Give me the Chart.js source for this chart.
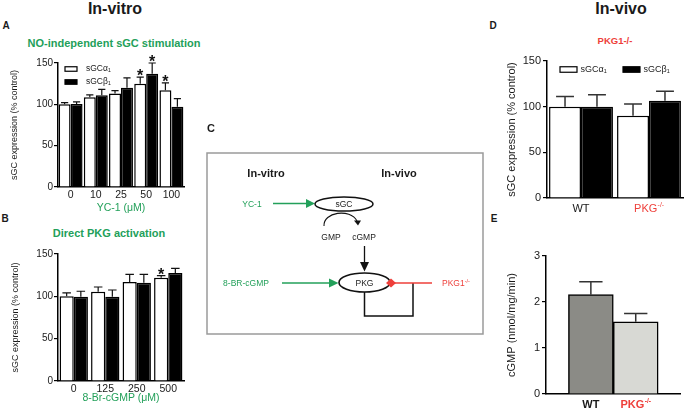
<!DOCTYPE html>
<html><head><meta charset="utf-8">
<script src="https://cdn.jsdelivr.net/npm/chart.js@4.4.1/dist/chart.umd.min.js"></script>
<style>
html,body{margin:0;padding:0;background:#fff;}
#fig{position:relative;width:685px;height:411px;overflow:hidden;background:#fff;font-family:"Liberation Sans",Arial,Helvetica,sans-serif;color:#1a1a1a;}
.t{position:absolute;transform:translate(-50%,-50%);white-space:nowrap;line-height:1;}
canvas{position:absolute;}
svg{position:absolute;left:0;top:0;}
</style></head><body>
<div id="fig">
  <div class="t" style="left:115px;top:9px;font-size:16px;font-weight:bold">In-vitro</div>
  <div class="t" style="left:6px;top:26px;font-size:10px;font-weight:bold">A</div>
  <div class="t" style="left:114px;top:43px;font-size:11px;font-weight:bold;color:#23a05a">NO-independent sGC stimulation</div>
  <div class="t" style="left:5px;top:219px;font-size:10px;font-weight:bold">B</div>
  <div class="t" style="left:109px;top:233px;font-size:11px;font-weight:bold;color:#23a05a">Direct PKG activation</div>
  <div class="t" style="left:621px;top:9px;font-size:16px;font-weight:bold">In-vivo</div>
  <div class="t" style="left:493px;top:26px;font-size:10px;font-weight:bold">D</div>
  <div class="t" style="left:615px;top:41px;font-size:9.5px;font-weight:bold;color:#ee3f3a">PKG1-/-</div>
  <div class="t" style="left:494px;top:219px;font-size:10px;font-weight:bold">E</div>

  <canvas id="cA" width="190" height="170" style="left:0px;top:50px;width:190px;height:170px"></canvas>
  <canvas id="cB" width="190" height="171" style="left:0px;top:240px;width:190px;height:171px"></canvas>
  <canvas id="cD" width="185" height="170" style="left:500px;top:50px;width:185px;height:170px"></canvas>
  <canvas id="cE" width="185" height="171" style="left:500px;top:240px;width:185px;height:171px"></canvas>

  <svg width="685" height="411" viewBox="0 0 685 411" font-family="Liberation Sans, Arial, sans-serif">
    <text x="211" y="132" font-size="11" font-weight="bold" text-anchor="middle" fill="#1a1a1a">C</text>
    <rect x="207" y="153" width="276" height="181" fill="none" stroke="#9a9a9a" stroke-width="1.5"/>
    <text x="266" y="177" font-size="11" font-weight="bold" text-anchor="middle" fill="#1a1a1a">In-vitro</text>
    <text x="399" y="177" font-size="11" font-weight="bold" text-anchor="middle" fill="#1a1a1a">In-vivo</text>
    <!-- YC-1 arrow -->
    <text x="252" y="207" font-size="8.5" text-anchor="middle" fill="#23a05a">YC-1</text>
    <line x1="273" y1="203.5" x2="308" y2="203.5" stroke="#23a05a" stroke-width="1.6"/>
    <polygon points="306,199 315,203.5 306,208" fill="#23a05a"/>
    <ellipse cx="344" cy="204" rx="29" ry="7" fill="#fff" stroke="#111" stroke-width="1.5"/>
    <text x="344" y="207" font-size="8.5" text-anchor="middle" fill="#222">sGC</text>
    <!-- GMP -> cGMP curved arrow -->
    <path d="M 324 226 C 323 212, 350 208, 357 221" fill="none" stroke="#111" stroke-width="1.1"/>
    <polygon points="354,220.5 361,220.5 358,225.5" fill="#111"/>
    <text x="331" y="240" font-size="8.5" text-anchor="middle" fill="#222">GMP</text>
    <text x="364" y="240" font-size="8.5" text-anchor="middle" fill="#222">cGMP</text>
    <!-- cGMP -> PKG -->
    <line x1="364.5" y1="246" x2="364.5" y2="264" stroke="#111" stroke-width="1.3"/>
    <polygon points="360,262 369,262 364.5,271.5" fill="#111"/>
    <!-- 8-BR-cGMP arrow -->
    <text x="246" y="286" font-size="8.5" text-anchor="middle" fill="#23a05a">8-BR-cGMP</text>
    <line x1="282" y1="283" x2="331" y2="283" stroke="#23a05a" stroke-width="1.6"/>
    <polygon points="329,278.5 338.5,283 329,287.5" fill="#23a05a"/>
    <ellipse cx="364.5" cy="282.5" rx="25.5" ry="9.5" fill="#fff" stroke="#111" stroke-width="1.6"/>
    <text x="364.5" y="285.5" font-size="8.5" text-anchor="middle" fill="#222">PKG</text>
    <!-- feedback loop -->
    <polyline points="364.5,292 364.5,316 413,316 413,283" fill="none" stroke="#111" stroke-width="1.5"/>
    <!-- PKG1-/- inhibitory -->
    <line x1="394" y1="283" x2="432" y2="283" stroke="#ee3f3a" stroke-width="1.6"/>
    <polygon points="386,283 391,278.5 396,283 391,287.5" fill="#ee3f3a"/>
    <text x="442" y="286" font-size="8.5" fill="#ee3f3a">PKG1<tspan font-size="5.5" dy="-3">-/-</tspan></text>
  </svg>
</div>
<script>
// ---------- data ----------
const seriesNames = ['sGC\u03b1\u2081', 'sGC\u03b2\u2081'];

// Panel A: YC-1 (µM)
const yc1Doses = ['0', '10', '25', '50', '100'];
const alphaA = [100, 108.5, 113, 125, 117];
const alphaErrA = [2, 3, 3.5, 8, 9];
const betaA = [100.5, 111, 120, 137, 97];
const betaErrA = [2.5, 7, 12, 13, 10];
const starAlphaA = [0, 0, 0, 1, 1];
const starBetaA = [0, 0, 0, 1, 0];

// Panel B: 8-Br-cGMP (µM)
const brDoses = ['0', '125', '250', '500'];
const alphaB = [100, 105.5, 117, 122];
const alphaErrB = [4, 5.5, 9, 2.5];
const betaB = [99.5, 99.5, 116, 127.5];
const betaErrB = [6.5, 8, 10, 5.5];
const starAlphaB = [0, 0, 0, 1];
const starBetaB = [0, 0, 0, 0];

// Panel D: genotypes
const genotypes = ['WT', 'PKG-/-'];
const alphaD = [100, 90];
const alphaErrD = [11, 13];
const betaD = [100, 106.5];
const betaErrD = [13, 10.5];

// Panel E: cGMP production
const cgmpE = [2.16, 1.57];
const cgmpErrE = [0.28, 0.18];

// ---------- style ----------
const FONT = '"Liberation Sans", Arial, Helvetica, sans-serif';
const GREEN = '#23a05a', RED = '#ee3f3a', INK = '#1a1a1a';
Chart.defaults.font.family = FONT;
Chart.defaults.color = INK;
Chart.defaults.animation = false;

// ---------- plugins ----------
const errorBars = {
  id: 'errorBars',
  afterDatasetsDraw(chart, args, o) {
    const {ctx} = chart; const ys = chart.scales.y;
    chart.data.datasets.forEach((ds, di) => {
      if (!ds.errors) return;
      const meta = chart.getDatasetMeta(di);
      meta.data.forEach((bar, i) => {
        const v = ds.data[i];
        if (v == null) return;
        const top = ys.getPixelForValue(v + ds.errors[i]);
        const half = bar.width * o.cap / 2;
        ctx.save();
        ctx.strokeStyle = o.color; ctx.lineWidth = o.width;
        ctx.beginPath();
        ctx.moveTo(bar.x, bar.y); ctx.lineTo(bar.x, top);
        ctx.moveTo(bar.x - half, top); ctx.lineTo(bar.x + half, top);
        ctx.stroke();
        if (ds.stars && ds.stars[i]) {
          ctx.fillStyle = '#111';
          ctx.font = 'bold 16px ' + FONT;
          ctx.textAlign = 'center'; ctx.textBaseline = 'alphabetic';
          ctx.fillText('*', bar.x, top + 4);
        }
        ctx.restore();
      });
    });
  }
};

const innerLegend = {
  id: 'innerLegend',
  afterDraw(chart, args, o) {
    if (!o || !o.display) return;
    const {ctx, chartArea} = chart;
    chart.data.datasets.forEach((ds, i) => {
      const bx = chartArea.left + o.x + i * o.dx;
      const by = chartArea.top + o.y + i * o.dy;
      ctx.save();
      ctx.fillStyle = ds.backgroundColor; ctx.strokeStyle = '#000'; ctx.lineWidth = o.lw;
      ctx.fillRect(bx, by - o.h / 2, o.w, o.h);
      ctx.strokeRect(bx, by - o.h / 2, o.w, o.h);
      ctx.fillStyle = INK; ctx.font = o.size + 'px ' + FONT;
      ctx.textAlign = 'left'; ctx.textBaseline = 'middle';
      ctx.fillText(ds.label, bx + o.w + o.gap, by);
      ctx.restore();
    });
  }
};

const SUP_PAD = '\u2009\u2009\u2009';
const supLabels = {
  id: 'supLabels',
  afterDraw(chart, args, o) {
    if (!o || !o.display) return;
    const xs = chart.scales.x; const {ctx} = chart;
    chart.data.labels.forEach((raw, i) => {
      if (!raw || !raw.endsWith('-/-')) return;
      const base = raw.slice(0, -3);
      ctx.save();
      ctx.font = o.weight + ' ' + o.size + 'px ' + FONT;
      const wFull = ctx.measureText(base + SUP_PAD).width;
      const wBase = ctx.measureText(base).width;
      const cx = xs.getPixelForValue(i);
      const cy = xs.top + o.padding + o.size * 1.2 / 2;
      ctx.font = o.weight + ' ' + (o.size * 0.62).toFixed(1) + 'px ' + FONT;
      ctx.fillStyle = o.color; ctx.textAlign = 'left'; ctx.textBaseline = 'middle';
      ctx.fillText('-/-', cx - wFull / 2 + wBase + 0.3, cy - o.size * 0.33);
      ctx.restore();
    });
  }
};

function yAxis(o) {
  return {
    min: o.min, max: o.max,
    ticks: {stepSize: o.step, font: {size: o.tick}, color: INK, padding: o.tpad},
    grid: {drawOnChartArea: false, drawTicks: true, tickLength: 4, color: '#000', lineWidth: 1.2},
    border: {color: '#000', width: 1.5},
    title: {display: true, text: o.title, color: INK, font: {size: o.tsize}, padding: {top: o.titlePad, bottom: 0}},
    afterFit: s => { s.width = o.width; }
  };
}
function xAxis(o) {
  const labels = o.labels;
  return {
    type: 'category', offset: o.offset !== false,
    grid: {drawOnChartArea: false, drawTicks: false},
    border: {color: '#000', width: 1.5},
    ticks: {
      font: {size: o.tick, weight: o.weight || 'normal'}, padding: o.tpad, maxRotation: 0, autoSkip: false,
      color: c => (labels[c.index] || '').startsWith('PKG') ? RED : INK,
      callback: (v, i) => { const l = labels[i]; return l.endsWith('-/-') ? l.slice(0, -3) + SUP_PAD : l; }
    },
    title: o.title ? {display: true, text: o.title, color: GREEN, font: {size: o.tsize}, padding: {top: 0, bottom: o.titlePad}} : {display: false},
    afterFit: s => { s.height = o.height; }
  };
}
function barSet(label, data, errors, stars, color, cp) {
  return {label, data, errors, stars, backgroundColor: color, borderColor: '#000', borderWidth: 1.5,
          categoryPercentage: cp, barPercentage: 1};
}
const baseOpts = {responsive: false, animation: false, events: []};

// ---------- Panel A ----------
new Chart(document.getElementById('cA'), {
  type: 'bar',
  data: {labels: yc1Doses, datasets: [
    barSet(seriesNames[0], alphaA, alphaErrA, starAlphaA, '#ffffff', 0.95),
    barSet(seriesNames[1], betaA, betaErrA, starBetaA, '#000000', 0.95)
  ]},
  options: Object.assign({}, baseOpts, {
    layout: {padding: {top: 13, right: 6, left: 0, bottom: 0}},
    scales: {
      x: xAxis({labels: yc1Doses, tick: 10.5, tpad: 2, title: 'YC-1 (\u03bcM)', tsize: 10.5, titlePad: 5.7, height: 33}),
      y: yAxis({min: 0, max: 150, step: 50, tick: 10, tpad: 1, title: 'sGC expression (% control)', tsize: 9, titlePad: 9.6, width: 58})
    },
    plugins: {legend: {display: false}, tooltip: {enabled: false},
      errorBars: {cap: 0.6, width: 1.2, color: '#111'},
      innerLegend: {display: true, x: 7, y: 6, dx: 0, dy: 13, w: 12, h: 4.5, gap: 9, size: 8.5, lw: 1.2}}
  }),
  plugins: [errorBars, innerLegend]
});

// ---------- Panel B ----------
new Chart(document.getElementById('cB'), {
  type: 'bar',
  data: {labels: brDoses, datasets: [
    barSet(seriesNames[0], alphaB, alphaErrB, starAlphaB, '#ffffff', 0.9),
    barSet(seriesNames[1], betaB, betaErrB, starBetaB, '#000000', 0.9)
  ]},
  options: Object.assign({}, baseOpts, {
    layout: {padding: {top: 14, right: 6, left: 0, bottom: 0}},
    scales: {
      x: xAxis({labels: brDoses, tick: 10.5, tpad: 2, title: '8-Br-cGMP (\u03bcM)', tsize: 10.5, titlePad: 6.7, height: 30}),
      y: yAxis({min: 0, max: 150, step: 50, tick: 10, tpad: 1, title: 'sGC expression (% control)', tsize: 9, titlePad: 10.6, width: 58})
    },
    plugins: {legend: {display: false}, tooltip: {enabled: false},
      errorBars: {cap: 0.6, width: 1.2, color: '#111'}}
  }),
  plugins: [errorBars]
});

// ---------- Panel D ----------
new Chart(document.getElementById('cD'), {
  type: 'bar',
  data: {labels: genotypes, datasets: [
    barSet(seriesNames[0], alphaD, alphaErrD, null, '#ffffff', 0.94),
    barSet(seriesNames[1], betaD, betaErrD, null, '#000000', 0.94)
  ]},
  options: Object.assign({}, baseOpts, {
    layout: {padding: {top: 11, right: 2, left: 0, bottom: 0}},
    scales: {
      x: xAxis({labels: genotypes, tick: 11, tpad: 4.4, height: 22}),
      y: yAxis({min: 0, max: 150, step: 50, tick: 11, tpad: 2, title: 'sGC expression (% control)', tsize: 11, titlePad: 5.4, width: 47})
    },
    plugins: {legend: {display: false}, tooltip: {enabled: false},
      errorBars: {cap: 0.56, width: 1.5, color: '#333'},
      innerLegend: {display: true, x: 13, y: 8.5, dx: 63, dy: 0, w: 17, h: 5.5, gap: 3.5, size: 9, lw: 1.2},
      supLabels: {display: true, size: 11, weight: 'normal', padding: 4.4, color: RED}}
  }),
  plugins: [errorBars, innerLegend, supLabels]
});

// ---------- Panel E ----------
const labelsE = ['', ...genotypes, ''];
new Chart(document.getElementById('cE'), {
  type: 'bar',
  data: {labels: labelsE, datasets: [{
    label: 'cGMP', data: [null, ...cgmpE, null], errors: [0, ...cgmpErrE, 0],
    backgroundColor: ['#ffffff', '#8b8b86', '#d8d9d4', '#ffffff'], borderColor: '#000', borderWidth: 1.5,
    categoryPercentage: 1, barPercentage: 1
  }]},
  options: Object.assign({}, baseOpts, {
    layout: {padding: {top: 16, right: 1, left: 0, bottom: 0}},
    scales: {
      x: xAxis({labels: labelsE, tick: 11, weight: 'bold', tpad: 4.4, height: 17, offset: false}),
      y: yAxis({min: 0, max: 3, step: 1, tick: 11, tpad: 2, title: 'cGMP (nmol/mg/min)', tsize: 11, titlePad: 5.4, width: 46})
    },
    plugins: {legend: {display: false}, tooltip: {enabled: false},
      errorBars: {cap: 0.52, width: 1.5, color: '#333'},
      supLabels: {display: true, size: 11, weight: 'bold', padding: 4.4, color: RED}}
  }),
  plugins: [errorBars, supLabels]
});
</script>
</body></html>
